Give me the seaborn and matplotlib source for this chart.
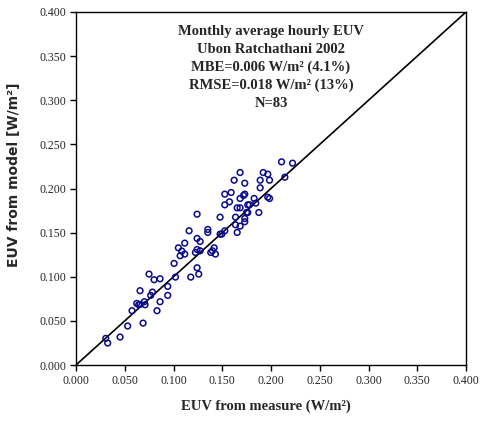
import matplotlib
matplotlib.use("Agg")
import matplotlib.pyplot as plt
import seaborn as sns
import pandas as pd

measured = [0.0305, 0.0325, 0.0452, 0.0530, 0.0688, 0.0575, 0.0623, 0.0657, 0.0701, 0.0708,
            0.0657, 0.0766, 0.0784, 0.0831, 0.0862, 0.0749, 0.0801, 0.0862, 0.0941, 0.0941,
            0.1020, 0.1006, 0.1050, 0.1068, 0.1085, 0.1115, 0.1115, 0.1160, 0.1177, 0.1242,
            0.1259, 0.1225, 0.1242, 0.1273, 0.1242, 0.1273, 0.1242, 0.1352, 0.1352, 0.1382,
            0.1399, 0.1417, 0.1430, 0.1478, 0.1478, 0.1495, 0.1526, 0.1526, 0.1526, 0.1574,
            0.1591, 0.1622, 0.1683, 0.1731, 0.1636, 0.1636, 0.1653, 0.1683, 0.1653, 0.1683,
            0.1683, 0.1718, 0.1731, 0.1731, 0.1731, 0.1749, 0.1762, 0.1779, 0.1762, 0.1827,
            0.1844, 0.1875, 0.1889, 0.1889, 0.1920, 0.1967, 0.1985, 0.1967, 0.1985, 0.2108,
            0.2142, 0.2221, 0.0643]
model = [0.0302, 0.0249, 0.0317, 0.0442, 0.0475, 0.0615, 0.0698, 0.0687, 0.0717, 0.0683,
         0.0842, 0.0789, 0.0826, 0.0615, 0.0717, 0.1030, 0.0966, 0.0977, 0.0891, 0.0789,
         0.0996, 0.1151, 0.1328, 0.1238, 0.1291, 0.1257, 0.1381, 0.1521, 0.0996, 0.1102,
         0.1030, 0.1275, 0.1309, 0.1294, 0.1434, 0.1400, 0.1709, 0.1536, 0.1502, 0.1275,
         0.1294, 0.1328, 0.1257, 0.1675, 0.1483, 0.1483, 0.1521, 0.1936, 0.1815, 0.1849,
         0.1955, 0.2094, 0.2181, 0.2060, 0.1675, 0.1589, 0.1502, 0.1574, 0.1781, 0.1781,
         0.1887, 0.1921, 0.1936, 0.1660, 0.1623, 0.1728, 0.1815, 0.1815, 0.1728, 0.1887,
         0.1834, 0.1728, 0.2008, 0.2094, 0.2181, 0.2162, 0.2094, 0.1902, 0.1887, 0.2302,
         0.2128, 0.2287, 0.0683]
ticks = [0.0, 0.05, 0.1, 0.15, 0.2, 0.25, 0.3, 0.35, 0.4]
tick_labels = ["0.000", "0.050", "0.100", "0.150", "0.200", "0.250", "0.300", "0.350", "0.400"]
annotation = ["Monthly average hourly EUV", "Ubon Ratchathani 2002",
              "MBE=0.006 W/m² (4.1%)", "RMSE=0.018 W/m² (13%)", "N=83"]

df = pd.DataFrame({"measured": measured, "model": model})

sns.set_theme(style="white")
plt.rcParams["font.family"] = ["Liberation Serif", "DejaVu Serif"]

fig = plt.figure(figsize=(4.83, 4.25), dpi=100)
ax = fig.add_axes([76/483, 1 - 365/425, 390/483, 353/425])

lim = (ticks[0], ticks[-1])
ax.plot(lim, lim, color="black", lw=1.2, zorder=1)
sns.scatterplot(data=df, x="measured", y="model", ax=ax, marker="o", s=17,
                facecolor="none", edgecolor="#0a0a8c", linewidth=1.1, zorder=2)

ax.set_xlim(lim)
ax.set_ylim(lim)
ax.set_xticks(ticks)
ax.set_yticks(ticks)
ax.set_xticklabels(tick_labels, fontsize=8.5)
ax.set_yticklabels(tick_labels, fontsize=8.5)
ax.tick_params(axis="both", direction="out", length=4, width=1, color="black",
               bottom=True, left=True, top=False, right=False, pad=3)
for sp in ax.spines.values():
    sp.set_color("black")
    sp.set_linewidth(1.0)

ax.set_xlabel("EUV from measure (W/m²)", fontsize=10.5, fontweight="bold",
              family=["Liberation Serif"])
ax.xaxis.set_label_coords((266 - 76) / 390, -(406 - 365) / 353)
ax.xaxis.label.set_va("center")
ax.set_ylabel("EUV from model [W/m²]", fontsize=10, fontweight="bold",
              family=["DejaVu Sans"])
ax.yaxis.set_label_coords((21 - 76) / 390, (365 - 175) / 353)

ax.text(0.5, 0.962, "\n".join(annotation), transform=ax.transAxes, ha="center", va="top",
        fontsize=10.5, fontweight="bold", linespacing=1.45, family=["Liberation Serif"])

fig.savefig("out.png", dpi=100, facecolor="white")
